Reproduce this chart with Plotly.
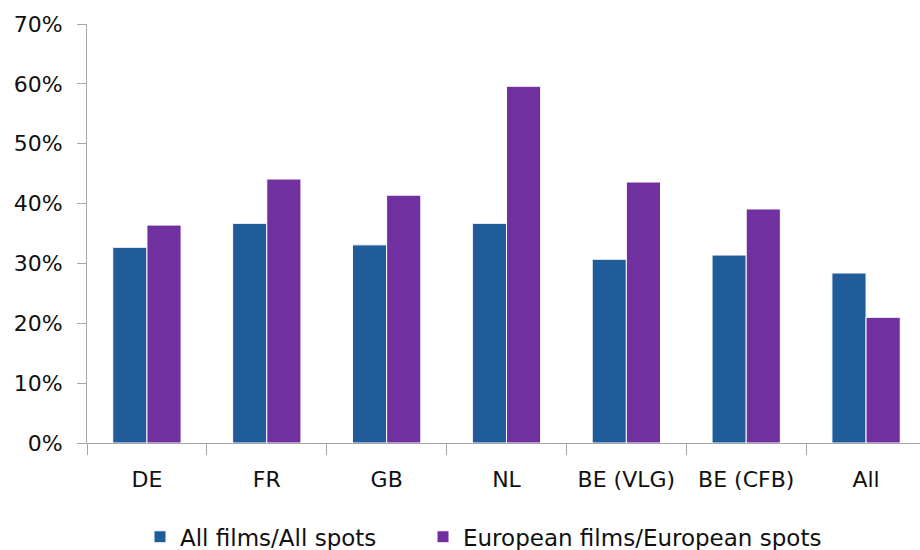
import plotly.graph_objects as go

categories = ["DE", "FR", "GB", "NL", "BE (VLG)", "BE (CFB)", "All"]
all_films = [0.327, 0.367, 0.331, 0.367, 0.307, 0.314, 0.284]
european_films = [0.364, 0.441, 0.414, 0.596, 0.436, 0.391, 0.210]
series_names = ["All films/All spots", "European films/European spots"]
y_ticks = [0, 0.1, 0.2, 0.3, 0.4, 0.5, 0.6, 0.7]

FONT = "DejaVu Sans"
fig = go.Figure()
fig.add_trace(go.Bar(x=categories, y=all_films, name=series_names[0], legend="legend",
                     marker=dict(color="#1F5C99", line=dict(color="#FFFFFF", width=1))))
fig.add_trace(go.Bar(x=categories, y=european_films, name=series_names[1], legend="legend2",
                     marker=dict(color="#7030A0", line=dict(color="#FFFFFF", width=1))))

leg_common = dict(orientation="h", xanchor="left", xref="container",
                  y=0.024, yanchor="middle", yref="container",
                  font=dict(size=23), itemwidth=30, bgcolor="rgba(0,0,0,0)")
fig.update_layout(
    width=920, height=550,
    margin=dict(l=87, r=0, t=24, b=107, autoexpand=False),
    plot_bgcolor="white", paper_bgcolor="white",
    barmode="group", bargap=0.43, bargroupgap=0,
    font=dict(family=FONT, size=22, color="#111111"),
    showlegend=True,
    legend=dict(x=140 / 920, **leg_common),
    legend2=dict(x=423 / 920, **leg_common),
)
fig.update_xaxes(
    type="category", range=[-0.5, 6.45],
    showline=True, linecolor="#A6A6A6", linewidth=1,
    ticks="outside", tickson="boundaries", ticklen=11, tickcolor="#A6A6A6",
    ticklabelstandoff=17, showgrid=False, zeroline=False,
    tickfont=dict(size=22),
)
fig.update_yaxes(
    range=[0, 0.7], tickvals=y_ticks, tickformat=".0%",
    showline=True, linecolor="#A6A6A6", linewidth=1,
    ticks="outside", ticklen=9, tickcolor="#A6A6A6",
    ticklabelstandoff=10, showgrid=False, zeroline=False,
    tickfont=dict(size=22),
)
fig.write_html("out.html")
